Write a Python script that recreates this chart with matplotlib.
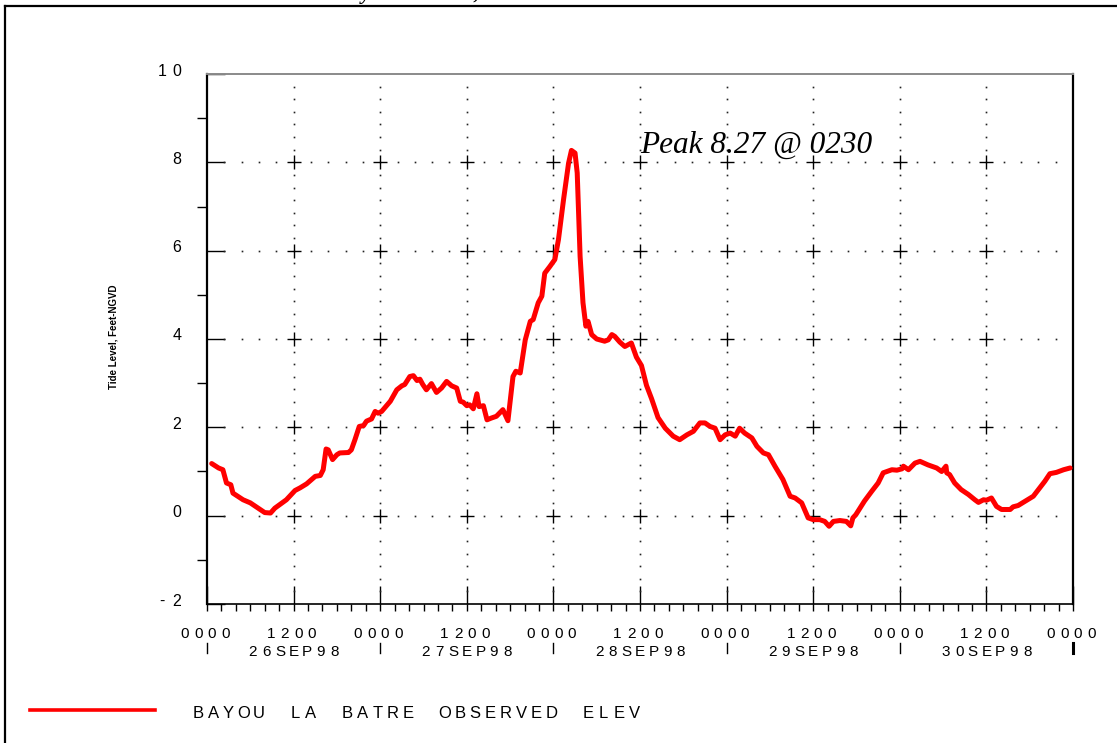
import numpy as np
import matplotlib
matplotlib.use("Agg")
import matplotlib.pyplot as plt
from matplotlib.lines import Line2D

# ---------------- data ----------------
hours = [0.65, 1.6, 2.2, 2.7, 3.3, 3.6, 5.0, 6.0, 7.1, 8.0, 8.8, 9.4, 11.0, 12.2, 12.9,
         13.8, 15.0, 15.7, 16.1, 16.5, 16.8, 17.4, 18.0, 18.4, 19.6, 20.0, 20.5, 21.1,
         21.7, 22.1, 22.8, 23.3, 23.7, 24.2, 25.4, 26.3, 27.0, 27.4, 28.1, 28.6, 29.1,
         29.5, 29.9, 30.4, 31.1, 31.8, 32.5, 33.2, 33.9, 34.6, 35.1, 35.5, 36.0, 36.4,
         36.9, 37.4, 37.7, 38.3, 38.8, 39.4, 40.1, 41.0, 41.7, 42.4, 42.8, 43.4, 44.1,
         44.8, 45.2, 45.9, 46.4, 46.8, 47.5, 48.2, 48.7, 49.4, 50.1, 50.5, 51.0, 51.3,
         51.7, 52.1, 52.5, 52.8, 53.3, 54.0, 55.1, 55.6, 56.1, 56.5, 57.2, 57.9, 58.8,
         59.5, 60.2, 60.9, 61.6, 62.5, 63.5, 64.6, 65.5, 66.5, 67.4, 68.3, 69.0, 69.7,
         70.4, 71.1, 71.8, 72.5, 73.2, 73.8, 74.5, 75.5, 76.2, 77.1, 77.8, 78.7, 79.8,
         80.8, 81.5, 82.4, 83.3, 84.0, 84.9, 85.6, 86.2, 86.8, 87.7, 88.6, 89.2, 89.5,
         89.9, 90.4, 91.1, 92.1, 93.0, 93.7, 94.2, 94.9, 95.6, 96.3, 96.5, 97.2, 98.1,
         98.8, 99.9, 101.1, 101.8, 102.4, 102.5, 102.9, 103.6, 104.5, 105.5, 106.4,
         106.9, 107.6, 108.0, 108.7, 109.4, 110.1, 111.3, 111.7, 112.4, 113.3, 114.5,
         115.4, 116.1, 116.8, 117.7, 118.7, 119.6]
elev = [1.18, 1.08, 1.04, 0.74, 0.70, 0.51, 0.36, 0.29, 0.17, 0.07, 0.06, 0.17, 0.36, 0.57, 0.63,
        0.72, 0.89, 0.91, 1.04, 1.51, 1.49, 1.27, 1.38, 1.42, 1.43, 1.49, 1.72, 2.02,
        2.04, 2.14, 2.19, 2.36, 2.32, 2.36, 2.59, 2.85, 2.94, 2.97, 3.15, 3.17, 3.06,
        3.09, 2.97, 2.85, 2.99, 2.79, 2.89, 3.04, 2.94, 2.89, 2.59, 2.57, 2.49, 2.51,
        2.42, 2.76, 2.47, 2.49, 2.17, 2.21, 2.25, 2.40, 2.15, 3.15, 3.27, 3.23, 3.98,
        4.40, 4.44, 4.82, 4.97, 5.49, 5.64, 5.80, 6.25, 7.15, 7.98, 8.27, 8.21, 7.76,
        5.87, 4.82, 4.29, 4.40, 4.10, 4.00, 3.95, 3.98, 4.10, 4.06, 3.93, 3.83, 3.91,
        3.59, 3.40, 2.95, 2.65, 2.22, 1.98, 1.80, 1.72, 1.83, 1.91, 2.10, 2.10, 2.02,
        1.98, 1.72, 1.83, 1.87, 1.80, 1.98, 1.87, 1.76, 1.57, 1.42, 1.38, 1.12, 0.82,
        0.44, 0.40, 0.29, -0.05, -0.09, -0.09, -0.13, -0.24, -0.13, -0.11, -0.13, -0.23, -0.05,
        0.02, 0.15, 0.33, 0.55, 0.74, 0.97, 1.00, 1.04, 1.03, 1.06, 1.12, 1.04, 1.19,
        1.23, 1.15, 1.08, 1.00, 1.12, 0.97, 0.93, 0.74, 0.59, 0.48, 0.36,
        0.30, 0.36, 0.35, 0.40, 0.21, 0.14, 0.14, 0.20, 0.23, 0.32, 0.44,
        0.63, 0.78, 0.95, 0.98, 1.04, 1.08]

time_labels = ["0000", "1200", "0000", "1200", "0000", "1200", "0000", "1200", "0000", "1200", "0000"]
date_labels = ["26SEP98", "27SEP98", "28SEP98", "29SEP98", "30SEP98"]
y_ticks = [-2, 0, 2, 4, 6, 8, 10]
y_tick_labels = ["-2", "0", "2", "4", "6", "8", "10"]
series_name = "BAYOU LA BATRE OBSERVED ELEV"
peak_text = "Peak 8.27 @ 0230"
y_label = "Tide Level, Feet-NGVD"
title_text = "Bayou La Batre, Alabama"

# ---------------- layout ----------------
W, H = 1117, 743
fig = plt.figure(figsize=(W / 100, H / 100), dpi=100)
fig.patch.set_facecolor("white")

def fx(x):
    return x / W

def fy(y):
    return 1 - y / H

AX_L, AX_R, AX_T, AX_B = 207, 1073, 74, 604
ax = fig.add_axes([fx(AX_L), fy(AX_B), (AX_R - AX_L) / W, (AX_B - AX_T) / H])
ax.set_xlim(0, 120)
ax.set_ylim(-2, 10)

# spines
for s in ["left", "right"]:
    ax.spines[s].set_linewidth(1.6)
    ax.spines[s].set_color("black")
ax.spines["bottom"].set_linewidth(1.2)
ax.spines["top"].set_linewidth(1.4)
ax.spines["top"].set_color("#8a8a8a")

# ticks
ax.set_xticks(np.arange(0, 121, 12))
ax.set_xticks(np.arange(0, 121, 2), minor=True)
ax.xaxis.remove_overlapping_locs = False
ax.set_yticks(y_ticks)
ax.set_yticks(np.arange(-1, 10, 2), minor=True)
ax.tick_params(axis="x", which="major", direction="in", length=13, width=1.0,
               labelbottom=False, top=False)
ax.tick_params(axis="x", which="minor", direction="out", length=5, width=1.0, top=False)
ax.tick_params(axis="y", which="major", direction="in", length=13, width=1.0,
               labelleft=False, right=False)
ax.tick_params(axis="y", which="minor", direction="out", length=7, width=1.0, right=False)

# dotted grid
xd = [k * 2.4 for k in range(1, 50) if k % 5 != 0]
for yv in [0, 2, 4, 6, 8]:
    ax.plot(xd, [yv] * len(xd), ls="none", marker="s", ms=1.2, color="#222222", mew=0)
yd = [-2 + k * 2 / 7 for k in range(1, 42) if k % 7 != 0]
for xv in range(12, 120, 12):
    ax.plot([xv] * len(yd), yd, ls="none", marker="s", ms=1.2, color="#222222", mew=0)
cx, cy = np.meshgrid(np.arange(12, 120, 12), [0, 2, 4, 6, 8])
ax.plot(cx.ravel(), cy.ravel(), ls="none", marker="+", ms=10, mew=1.0, color="black")

# data line
ax.plot(hours, elev, color="#ff0000", lw=3.6, solid_joinstyle="round",
        solid_capstyle="round", zorder=5)

# peak annotation
fig.text(fx(640), fy(153), peak_text, family="Liberation Serif", style="italic",
         fontsize=22.5, ha="left", va="baseline")

# ---------------- spaced-letter texts ----------------
def spaced(xc, yc, s, pitch, size=11, **kw):
    n = len(s)
    x0 = xc - (n - 1) / 2 * pitch
    for i, ch in enumerate(s):
        fig.text(fx(x0 + i * pitch), fy(yc), ch, ha="center", va="center",
                 fontsize=size, family="Liberation Sans", **kw)

def xpix(h):
    return AX_L + h / 120 * (AX_R - AX_L)

def ypix(v):
    return AX_B - (v + 2) / 12 * (AX_B - AX_T)

for i, lab in enumerate(time_labels):
    spaced(xpix(i * 12) - 2, 634, lab, 13.6)
for i, lab in enumerate(date_labels):
    spaced(xpix(12 + i * 24), 652, lab, 13.6)
for i in range(0, 11, 2):
    lw = 2.2 if i == 10 else 1.0
    fig.add_artist(Line2D([fx(xpix(i * 12))] * 2, [fy(643), fy(653)], color="black", lw=lw))

# y tick labels (right aligned, spaced)
for v, lab in zip(y_ticks, y_tick_labels):
    n = len(lab)
    for j, ch in enumerate(lab):
        xc = 177 - (n - 1 - j) * 15
        fig.text(fx(xc), fy(ypix(v) - 3), ch, ha="center", va="center",
                 fontsize=11.5, family="Liberation Sans")

# y axis label
fig.text(fx(113), fy(337), y_label, rotation=90, ha="center", va="center",
         fontsize=7, fontweight="bold", family="Liberation Sans")

# legend
fig.add_artist(Line2D([fx(30), fx(155)], [fy(710), fy(710)], color="#ff0000", lw=2.6))
pitch = 15.3
gap = (436 - 19 * pitch) / 4
xpos = 198.0
first = True
for word in series_name.split(" "):
    if not first:
        xpos += gap - pitch
    for ch in word:
        fig.text(fx(xpos), fy(713), ch, ha="center", va="center", fontsize=12,
                 family="Liberation Sans")
        xpos += pitch
    first = False

# figure border (top and left visible)
fig.add_artist(Line2D([fx(5), fx(W + 5)], [fy(6), fy(6)], color="black", lw=1.6))
fig.add_artist(Line2D([fx(5), fx(5)], [fy(6), fy(H + 5)], color="black", lw=1.6))

# title, mostly above the visible area (only descenders show, as in the reference)
fig.text(fx(337), fy(-1), title_text, family="Liberation Serif", style="italic",
         fontweight="bold", fontsize=15, ha="left", va="baseline")

fig.savefig("out.png", dpi=100)
